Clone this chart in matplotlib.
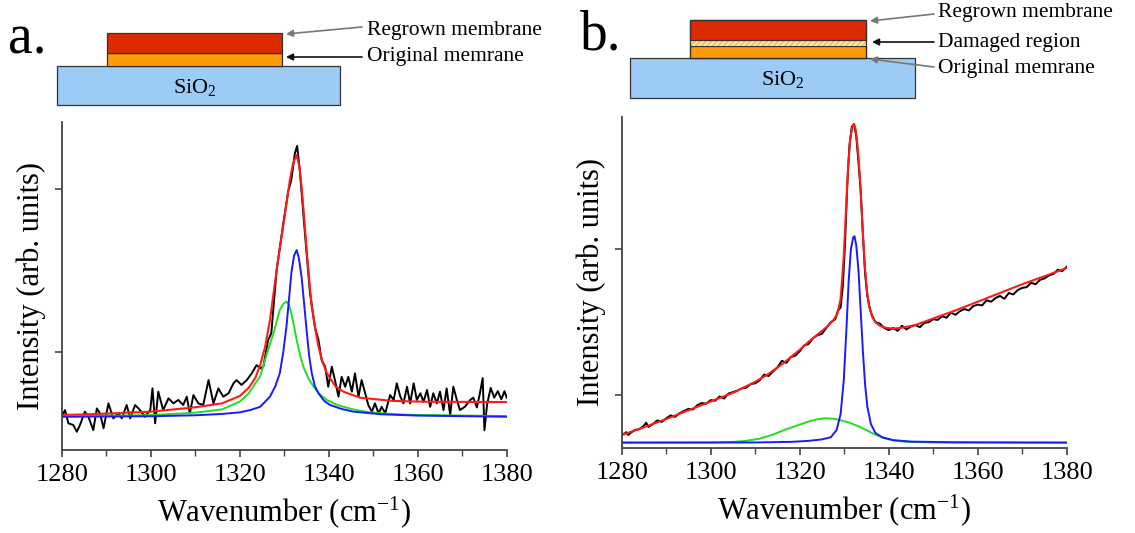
import numpy as np
import matplotlib
matplotlib.use('Agg')
from matplotlib import pyplot as plt
from matplotlib.patches import Rectangle

plt.rcParams['font.family'] = ['Liberation Serif', 'DejaVu Serif']
plt.rcParams['mathtext.fontset'] = 'custom'
plt.rcParams['mathtext.rm'] = 'Liberation Serif'
plt.rcParams['mathtext.it'] = 'Liberation Serif:italic'

# ---- panel a data (wavenumber, arb. intensity) ----
a_data_x = [1280.0, 1280.75, 1281.5, 1282.6, 1283.4, 1284.1, 1285.2, 1286.0, 1287.1, 1287.9,
            1288.6, 1289.4, 1290.5, 1291.6, 1292.7, 1293.5, 1294.6, 1295.4, 1296.5, 1297.6,
            1298.7, 1299.9, 1300.4, 1301.0, 1301.7, 1302.8, 1304.0, 1305.1, 1306.2, 1307.3,
            1308.1, 1308.8, 1309.6, 1310.7, 1311.8, 1313.0, 1314.1, 1315.2, 1316.3, 1317.5,
            1318.6, 1319.3, 1320.4, 1321.6, 1322.7, 1323.8, 1324.6, 1325.3, 1326.4, 1327.1,
            1328.3, 1329.8, 1330.9, 1331.6, 1332.4, 1332.9, 1333.5, 1334.6, 1335.8, 1336.9,
            1337.7, 1338.4, 1339.2, 1339.9, 1340.7, 1341.4, 1342.2, 1342.9, 1343.7, 1344.4,
            1345.2, 1345.9, 1346.7, 1347.4, 1348.2, 1348.9, 1349.7, 1350.4, 1351.2, 1351.9,
            1352.7, 1353.8, 1354.6, 1355.3, 1356.1, 1356.8, 1357.6, 1358.3, 1359.1, 1359.8,
            1360.6, 1361.3, 1362.1, 1362.8, 1363.5, 1364.3, 1365.0, 1365.8, 1366.5, 1367.3,
            1368.0, 1368.8, 1369.5, 1370.6, 1371.8, 1372.5, 1373.3, 1374.0, 1374.6, 1375.0,
            1375.6, 1376.4, 1377.2, 1378.0, 1378.8, 1379.5, 1380.0]
a_data_y = [0.603, 0.644, 0.563, 0.552, 0.511, 0.552, 0.634, 0.603, 0.521, 0.654,
            0.624, 0.532, 0.685, 0.593, 0.624, 0.593, 0.675, 0.593, 0.675, 0.644,
            0.603, 0.644, 0.777, 0.563, 0.757, 0.644, 0.716, 0.685, 0.706, 0.675,
            0.726, 0.624, 0.736, 0.685, 0.675, 0.828, 0.685, 0.777, 0.726, 0.747,
            0.808, 0.828, 0.798, 0.828, 0.869, 0.920, 0.900, 0.910, 1.074, 1.115,
            1.503, 1.790, 1.985, 2.055, 2.219, 2.264, 2.117, 1.748, 1.360, 1.155,
            1.074, 0.951, 0.910, 0.787, 0.910, 0.828, 0.726, 0.848, 0.787, 0.848,
            0.757, 0.869, 0.726, 0.828, 0.747, 0.675, 0.634, 0.685, 0.624, 0.664,
            0.624, 0.736, 0.706, 0.808, 0.726, 0.685, 0.787, 0.685, 0.808, 0.706,
            0.747, 0.695, 0.767, 0.664, 0.747, 0.685, 0.757, 0.644, 0.777, 0.613,
            0.787, 0.706, 0.644, 0.664, 0.706, 0.720, 0.660, 0.750, 0.840, 0.520,
            0.680, 0.780, 0.720, 0.760, 0.710, 0.760, 0.720]

a_fit_x = [1280, 1290, 1300, 1310, 1316, 1320, 1322, 1323.5, 1324.6, 1325.7, 1326.8, 1328.3,
           1330.2, 1331.3, 1332.0, 1332.8, 1333.4, 1333.9, 1334.5, 1335.1, 1335.7, 1336.2,
           1337.0, 1337.7, 1338.6, 1339.6, 1341.5, 1343.3, 1347, 1354.5, 1362, 1380]
a_fit_y = [0.613, 0.622, 0.634, 0.661, 0.685, 0.730, 0.780, 0.840, 0.920, 1.030, 1.196, 1.503,
           1.851, 2.060, 2.158, 2.209, 2.140, 2.014, 1.820, 1.605, 1.420, 1.278,
           1.140, 1.033, 0.940, 0.869, 0.790, 0.757, 0.720, 0.700, 0.695, 0.693]

a_blue_x = [1280, 1300, 1310, 1316, 1320, 1322.5, 1324.6, 1326.8, 1328.0, 1329.0, 1329.8, 1330.5,
            1331.1, 1331.6, 1332.2, 1332.8, 1333.3, 1333.9, 1334.5, 1335.1, 1335.6, 1336.2,
            1336.9, 1337.7, 1339, 1340.3, 1343, 1345.6, 1352, 1360, 1380]
a_blue_y = [0.603, 0.606, 0.612, 0.620, 0.630, 0.645, 0.664, 0.726, 0.790, 0.869, 1.000, 1.155,
            1.330, 1.483, 1.590, 1.626, 1.575, 1.462, 1.290, 1.115, 0.980, 0.869,
            0.790, 0.747, 0.700, 0.675, 0.650, 0.634, 0.618, 0.610, 0.603]

a_green_x = [1280, 1290, 1300, 1310, 1316, 1320, 1322, 1323.5, 1324.6, 1326.1, 1327.6, 1329.0,
             1329.8, 1330.5, 1331.1, 1331.6, 1332.2, 1332.8, 1333.5, 1334.3, 1335.4, 1336.6,
             1338, 1339.6, 1341.5, 1343.3, 1346, 1349.3, 1354, 1358.3, 1380]
a_green_y = [0.605, 0.609, 0.613, 0.628, 0.648, 0.695, 0.745, 0.808, 0.850, 0.990, 1.115, 1.258,
             1.295, 1.309, 1.290, 1.237, 1.160, 1.074, 0.990, 0.910, 0.840, 0.787,
             0.740, 0.706, 0.680, 0.664, 0.645, 0.630, 0.620, 0.615, 0.607]

# ---- panel b data ----
b_data_x = [1280, 1280.5, 1281, 1281.5, 1282, 1283, 1284, 1285, 1285.5, 1286, 1287, 1288, 1289,
            1290, 1291, 1292, 1293, 1294, 1295, 1296, 1297, 1298, 1299, 1300, 1301, 1302, 1303,
            1304, 1305, 1306, 1307, 1308, 1309, 1310, 1311, 1312, 1313, 1314, 1315, 1316, 1317,
            1318, 1319, 1320, 1321, 1322, 1323, 1324, 1325, 1326, 1327, 1328, 1328.6, 1329.2,
            1329.7, 1330.2, 1330.7, 1331.2, 1331.7, 1332.2, 1332.7, 1333.2, 1333.7, 1334.2,
            1334.7, 1335.2, 1335.7, 1336.2, 1337, 1338, 1339, 1340, 1341, 1342, 1343, 1344,
            1345, 1346, 1347, 1348, 1349, 1350, 1351, 1352, 1353, 1354, 1355, 1356, 1357, 1358,
            1359, 1360, 1361, 1362, 1363, 1364, 1365, 1366, 1367, 1368, 1369, 1370, 1371, 1372,
            1373, 1374, 1375, 1376, 1377, 1378, 1379, 1380]
b_data_y = [0.740, 0.730, 0.745, 0.725, 0.740, 0.760, 0.765, 0.790, 0.810, 0.780, 0.800, 0.825, 0.815,
            0.840, 0.860, 0.850, 0.875, 0.890, 0.905, 0.900, 0.930, 0.945, 0.940, 0.965, 0.960, 0.990, 0.975,
            1.010, 1.020, 1.030, 1.045, 1.050, 1.075, 1.080, 1.100, 1.140, 1.130, 1.160, 1.190, 1.235, 1.220,
            1.260, 1.270, 1.300, 1.340, 1.350, 1.390, 1.410, 1.420, 1.460, 1.500, 1.520, 1.580, 1.600,
            1.750, 2.050, 2.450, 2.720, 2.840, 2.860, 2.780, 2.600, 2.400, 2.100,
            1.830, 1.680, 1.600, 1.550, 1.500, 1.490, 1.460, 1.445, 1.460, 1.440, 1.475, 1.450,
            1.470, 1.480, 1.465, 1.495, 1.500, 1.520, 1.515, 1.540, 1.530, 1.565, 1.550, 1.575, 1.590, 1.580,
            1.610, 1.620, 1.615, 1.650, 1.640, 1.665, 1.680, 1.660, 1.700, 1.690, 1.720, 1.735, 1.740, 1.770,
            1.760, 1.790, 1.800, 1.820, 1.830, 1.860, 1.850, 1.880]

b_fit_x = [1280, 1285, 1290, 1295, 1300, 1305, 1310, 1313, 1316, 1318, 1320, 1322, 1324, 1326,
           1327.5, 1328.5, 1329.2, 1329.9, 1330.4, 1330.9, 1331.4, 1331.9, 1332.2, 1332.6, 1333.1,
           1333.6, 1334.1, 1334.6, 1335.1, 1335.6, 1336.3, 1337, 1338, 1339.5, 1341, 1343, 1346,
           1350, 1355, 1360, 1365, 1370, 1375, 1380]
b_fit_y = [0.725, 0.778, 0.835, 0.895, 0.955, 1.015, 1.090, 1.145, 1.210, 1.260, 1.310, 1.365, 1.415, 1.465,
           1.510, 1.560, 1.660, 1.950, 2.270, 2.580, 2.770, 2.850, 2.860, 2.820, 2.680,
           2.460, 2.170, 1.900, 1.720, 1.610, 1.535, 1.500, 1.475, 1.460, 1.455, 1.462, 1.480,
           1.525, 1.580, 1.640, 1.700, 1.760, 1.815, 1.872]

b_blue_x = [1280, 1310, 1318, 1322, 1325, 1327, 1328.3, 1329.2, 1329.9, 1330.5, 1331.0, 1331.5,
            1332.0, 1332.3, 1332.7, 1333.2, 1333.7, 1334.2, 1334.7, 1335.2, 1336, 1337, 1338.5,
            1341, 1345, 1355, 1380]
b_blue_y = [0.673, 0.674, 0.678, 0.685, 0.695, 0.710, 0.760, 0.870, 1.100, 1.450, 1.780, 2.000,
            2.080, 2.090, 2.030, 1.860, 1.580, 1.300, 1.070, 0.920, 0.800, 0.740, 0.710,
            0.690, 0.680, 0.675, 0.673]

b_green_x = [1280, 1300, 1305, 1308, 1311, 1314, 1317, 1320, 1322.5, 1324.5, 1326, 1327.5, 1329,
             1331, 1333, 1335, 1337, 1339, 1341, 1344, 1350, 1380]
b_green_y = [0.673, 0.674, 0.678, 0.685, 0.700, 0.728, 0.765, 0.797, 0.822, 0.836, 0.840, 0.837, 0.828,
             0.812, 0.788, 0.758, 0.727, 0.703, 0.688, 0.678, 0.674, 0.673]

xticks = [1280, 1300, 1320, 1340, 1360, 1380]

W, H = 1135, 533
fig = plt.figure(figsize=(W / 100, H / 100), dpi=100)

# schematic drawn in pixel coordinates on a full-figure axes
sk = fig.add_axes([0, 0, 1, 1])
sk.set_xlim(0, W)
sk.set_ylim(H, 0)
sk.axis('off')

blue_c, orange_c, red_c = '#9ccbf6', '#ff9a0a', '#dd2a00'
edge = '#333333'
sfs = 15.5


def box(x0, y0, x1, y1, fc, **kw):
    sk.add_patch(Rectangle((x0, y0), x1 - x0, y1 - y0, facecolor=fc, edgecolor=edge, lw=0.9, **kw))


def arrow(x0, y0, x1, y1, c):
    sk.annotate('', xy=(x1, y1), xytext=(x0, y0),
                arrowprops=dict(arrowstyle='-|>', color=c, lw=1.2, mutation_scale=10, shrinkA=0, shrinkB=0))


# panel a sketch
box(57, 66, 340, 105, blue_c)
box(107, 53, 282, 66, orange_c)
box(107, 33, 282, 53, red_c)
sk.text(195, 87, 'SiO$_2$', ha='center', va='center', fontsize=16)
sk.text(367, 30, 'Regrown membrane', ha='left', va='center', fontsize=sfs)
sk.text(367, 57, 'Original memrane', ha='left', va='center', fontsize=sfs)
arrow(362, 27, 286, 34, '#777777')
arrow(362, 57, 286, 57, '#111111')
sk.text(8, 40, 'a.', ha='left', va='center', fontsize=40)

# panel b sketch
box(630, 58, 915, 98, blue_c)
box(690, 46, 866, 58, orange_c)
sk.add_patch(Rectangle((690, 40), 176, 6, facecolor='#f6c36a', edgecolor='#fff3d8', lw=0, hatch='//////'))
box(690, 20, 866, 40, red_c)
sk.add_patch(Rectangle((690, 20), 176, 38, facecolor='none', edgecolor=edge, lw=0.9))
sk.text(783, 80, 'SiO$_2$', ha='center', va='center', fontsize=16)
sk.text(938, 12, 'Regrown membrane', ha='left', va='center', fontsize=sfs)
sk.text(938, 42, 'Damaged region', ha='left', va='center', fontsize=sfs)
sk.text(938, 69, 'Original memrane', ha='left', va='center', fontsize=sfs)
arrow(934, 14, 870, 21, '#777777')
arrow(934, 42, 872, 42, '#111111')
arrow(934, 67, 870, 59, '#777777')
sk.text(580, 36, 'b.', ha='left', va='center', fontsize=40)


def setup(ax, ylim, yticks):
    ax.set_xlim(1280, 1380)
    ax.set_ylim(*ylim)
    ax.set_xticks(xticks)
    ax.set_xticks(np.arange(1290, 1380, 20), minor=True)
    ax.set_yticks(yticks)
    ax.set_yticklabels([])
    for s in ['top', 'right']:
        ax.spines[s].set_visible(False)
    for s in ['left', 'bottom']:
        ax.spines[s].set_color('#444444')
        ax.spines[s].set_linewidth(1.3)
    ax.tick_params(axis='both', which='major', direction='out', length=5, width=1.2,
                   color='#444444', labelsize=19, pad=5)
    ax.tick_params(axis='x', which='minor', direction='out', length=4, width=1.0, color='#444444')
    ax.set_xlabel('Wavenumber (cm$^{-1}$)', fontsize=22, labelpad=6)
    ax.set_ylabel('Intensity (arb. units)', fontsize=22, labelpad=1)
    ax.patch.set_alpha(0)


ax1 = fig.add_axes([61.7 / W, 1 - 450 / H, 445 / W, 328 / H])
ax1.plot(a_data_x, a_data_y, color='black', lw=1.4)
ax1.plot(a_fit_x, a_fit_y, color='#ff1a1a', lw=1.5)
ax1.plot(a_green_x, a_green_y, color='#22dd22', lw=1.4)
ax1.plot(a_blue_x, a_blue_y, color='#1a1aff', lw=1.4)
setup(ax1, (0.399, 2.411), [1, 2])

ax2 = fig.add_axes([621.7 / W, 1 - 448 / H, 445 / W, 331.3 / H])
ax2.plot(b_data_x, b_data_y, color='black', lw=1.4)
ax2.plot(b_fit_x, b_fit_y, color='#ff1a1a', lw=1.5)
ax2.plot(b_green_x, b_green_y, color='#22dd22', lw=1.4)
ax2.plot(b_blue_x, b_blue_y, color='#1a1aff', lw=1.4)
setup(ax2, (0.636, 2.91), [1, 2])

fig.savefig('out.png', dpi=100)
